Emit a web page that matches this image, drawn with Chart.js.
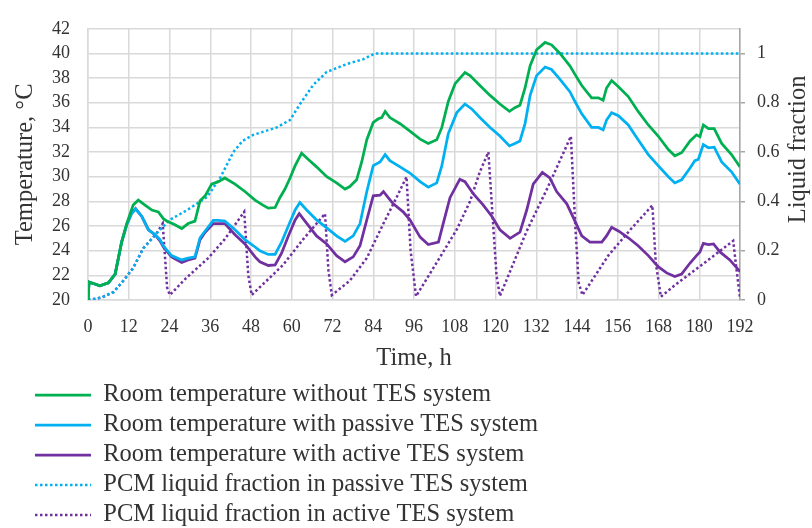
<!DOCTYPE html>
<html>
<head>
<meta charset="utf-8">
<script src="https://cdn.jsdelivr.net/npm/chart.js@4/dist/chart.umd.min.js"></script>
<style>
  html, body { margin: 0; padding: 0; background: #ffffff; }
  #wrap { width: 812px; height: 528px; position: relative; }
</style>
</head>
<body>
<div id="wrap"><canvas id="c" width="812" height="528"></canvas></div>
<script>
// ---------- DATA ----------
const seriesNames = [
  'Room temperature without TES system',
  'Room temperature with passive TES system',
  'Room temperature with active TES system',
  'PCM liquid fraction in passive TES system',
  'PCM liquid fraction in active TES system'
];
const xTitle = 'Time, h';
const yTitle = 'Temperature, °C';
const y2Title = 'Liquid fraction';
const timeTicks = [0, 12, 24, 36, 48, 60, 72, 84, 96, 108, 120, 132, 144, 156, 168, 180, 192];
const tempTicks = [20, 22, 24, 26, 28, 30, 32, 34, 36, 38, 40, 42];
const fractionTicks = [0, 0.2, 0.4, 0.6, 0.8, 1];

const noTesHours = [0,0.3,2,3.5,6,8,9.9,11.4,13.3,14.8,16.8,18.8,20.7,22.2,23.2,25.6,27.6,29.5,31.5,33,34.5,36.4,38.4,40.3,43.3,46.2,49.2,51.5,53.1,55.1,56.5,58,59.5,61,62.9,64.9,67.3,70.3,73.2,75.7,77.1,79.1,80.6,82.1,84,85.5,86.5,87.5,88.9,91.9,94.8,97.8,100.2,102.7,104.2,106.1,108.1,111,112.5,115.4,118.4,121.3,124.1,125.7,127.2,128.7,130.2,132.1,134.6,136.5,139,141.9,143.4,145.4,148.3,150.3,151.7,152.7,154.2,156.2,159.1,162,165,167.9,170.9,172.8,174.8,177.3,179.2,180.2,181.2,182.7,184.4,186.6,189.5,192];
const noTesTemp = [20,21.45,21.3,21.15,21.4,22.1,24.7,26.2,27.7,28.1,27.7,27.3,27.15,26.6,26.4,26.1,25.8,26.2,26.4,28.05,28.45,29.4,29.6,29.9,29.4,28.8,28.1,27.7,27.45,27.5,28.3,29,29.9,30.9,31.9,31.4,30.8,30,29.5,29,29.2,29.75,31.2,33,34.4,34.7,34.8,35.3,34.8,34.3,33.7,33.05,32.7,33,34,36.1,37.55,38.45,38.2,37.4,36.6,35.9,35.3,35.6,35.8,37.2,39,40.3,40.9,40.7,40,39,38.3,37.4,36.4,36.4,36.2,37.2,37.8,37.3,36.5,35.3,34.2,33.3,32.2,31.7,31.95,32.9,33.4,33.25,34.2,33.9,33.9,32.7,31.8,30.8];

const passiveHours = [0,0.3,2,3.5,6,8,9.9,11.4,12.8,14,15.8,17.8,19.7,21.2,22.2,24.6,27.6,29.5,31.5,33,34.5,36.9,38.4,40.3,43.3,46.2,49.2,50.6,53.1,55.1,57,59,61,62.4,64.4,67.3,70.3,73.2,75.7,78.1,80.1,82.1,84,86,87.5,88.9,91.9,94.8,97.8,100.2,102.7,104.2,106.1,108.6,111,113,115.4,118.4,121.3,124.1,125.7,127.2,128.7,130.2,132.1,134.6,136.5,139,141.9,143.4,145.4,148.3,150.3,151.7,152.7,154.2,156.2,159.1,162,165,167.9,170.9,172.8,174.8,177.3,178.7,179.7,180.2,181.2,182.7,184.4,186.6,189.5,192];
const passiveTemp = [20,21.45,21.3,21.15,21.4,22.1,24.7,26.1,27,27.4,26.8,25.7,25.3,24.9,24.4,23.6,23.25,23.4,23.5,25.05,25.6,26.45,26.45,26.4,25.7,24.9,24.3,24,23.7,23.7,24.7,26,27.3,27.9,27.3,26.5,25.85,25.2,24.75,25.2,26.2,28.8,30.9,31.2,31.8,31.3,30.8,30.3,29.6,29.15,29.5,30.9,33.5,35.2,35.9,35.5,34.8,34,33.3,32.5,32.7,32.9,34.3,36.6,38.2,38.9,38.7,37.9,36.9,36.1,35.1,34,34,33.8,34.6,35.2,34.95,34.2,33,31.8,30.9,30,29.5,29.75,30.7,31.3,31.4,31.8,32.6,32.35,32.4,31.2,30.4,29.4];

const activeHours = [0,0.3,2,3.5,6,8,9.9,11.4,12.8,14,15.8,17.8,19.7,21.2,22.2,24.6,27.6,29.5,31.5,33,34.5,36.9,38.9,40.3,43.3,46.2,49.2,50.6,53.1,55.1,57,59,61,62.2,63.9,67.3,70.3,73.2,75.7,78.1,80.1,82.1,84,86,87,88.4,89.9,92.8,94.8,97.8,100.2,103.2,104.6,106.6,109.5,111,113.5,116.4,118.9,121.3,124.3,127.2,129.2,131.1,133.8,136,138,141,143.4,145.4,147.8,151.3,152.7,154.2,156.2,159.1,162,165,167.9,170.4,172.8,174.8,177.3,179.2,180.2,181.2,182.7,184.2,186.1,189,192];
const activeTemp = [20,21.45,21.3,21.15,21.4,22.1,24.7,26.1,27,27.4,26.8,25.7,25.3,24.8,24.3,23.5,23.05,23.25,23.4,24.9,25.5,26.2,26.2,26.2,25.3,24.55,23.5,23.1,22.8,22.85,23.8,25.2,26.5,27,26.4,25.2,24.55,23.6,23.1,23.5,24.4,26.5,28.45,28.5,28.8,28.3,27.8,27.15,26.5,25.1,24.5,24.7,26.2,28.3,29.8,29.6,28.6,27.7,26.8,25.7,25,25.5,27.3,29.4,30.35,29.9,28.8,27.8,26.4,25.2,24.7,24.7,25.2,25.9,25.6,25.05,24.4,23.6,22.7,22.2,21.9,22.1,23,23.6,23.9,24.6,24.5,24.55,23.9,23.25,22.3];

const passiveLfHours = [0,4,7.5,10.4,13.3,16.3,20.2,24.1,29.1,35,38.9,42.8,45.5,48.7,55.6,59.5,62.4,66.3,70.3,76.2,81.1,84.5,192];
const passiveLf = [0,0.01,0.032,0.078,0.13,0.21,0.27,0.325,0.364,0.417,0.495,0.6,0.645,0.67,0.7,0.73,0.794,0.872,0.925,0.957,0.977,1,1];

const activeLfHours = [0,4,7.5,10.4,13.3,16.3,20.2,22,23.3,24.1,28.6,35.4,40.3,46,47.2,48.2,57.5,63.4,69.8,70.8,71.8,77.1,82.1,87,90.9,93.8,95,96.6,104.6,108.6,112.5,115.4,117.9,120.3,121.3,129.2,135.5,142.2,143.5,144.5,145.6,153.2,159.7,166.2,167.2,168.7,172.8,182.7,190,191,192];
const activeLf = [0,0.01,0.032,0.078,0.13,0.21,0.27,0.31,0.05,0.02,0.085,0.17,0.247,0.358,0.1,0.02,0.143,0.247,0.35,0.12,0.02,0.078,0.17,0.31,0.417,0.5,0.2,0.015,0.195,0.286,0.4,0.52,0.6,0.1,0.016,0.28,0.46,0.664,0.3,0.07,0.02,0.18,0.285,0.384,0.15,0.013,0.06,0.163,0.24,0.12,0.01];

// ---------- STYLE ----------
const GREEN = '#00B050', BLUE = '#00B0F0', PURPLE = '#7030A0';
const TEXT = '#333333';
const FONT = '"Liberation Serif", "Times New Roman", serif';
const GRID = '#d9d9d9';

const pts = (xs, ys) => xs.map((x, i) => ({ x: x, y: ys[i] }));

const legendShift = {
  id: 'legendShift',
  afterLayout(chart) {
    if (chart.legend) {
      chart.legend.left += 29.5;
      chart.legend.top += 9.25;
      chart.legend.bottom += 9.25;
    }
  }
};

const rightTitle = {
  id: 'rightTitle',
  afterDraw(chart) {
    const s = chart.scales.yLf;
    const ctx = chart.ctx;
    ctx.save();
    ctx.translate(s.right - 13, (chart.chartArea.top + chart.chartArea.bottom) / 2 - 15);
    ctx.rotate(-Math.PI / 2);
    ctx.textAlign = 'center';
    ctx.textBaseline = 'middle';
    ctx.font = '24.5px ' + FONT;
    ctx.fillStyle = TEXT;
    ctx.fillText(y2Title, 0, 0);
    ctx.restore();
  }
};

const solid = (label, color, xs, ys) => ({
  label, data: pts(xs, ys), borderColor: color, backgroundColor: color,
  borderWidth: 2.75, pointRadius: 0, tension: 0, yAxisID: 'yT', fill: false
});
const dotted = (label, color, xs, ys) => ({
  label, data: pts(xs, ys), borderColor: color, backgroundColor: color,
  borderWidth: 2.5, borderDash: [2.5, 2.5], pointRadius: 0, tension: 0, yAxisID: 'yLf', fill: false
});

new Chart(document.getElementById('c'), {
  type: 'line',
  data: {
    datasets: [
      solid(seriesNames[0], GREEN, noTesHours, noTesTemp),
      solid(seriesNames[1], BLUE, passiveHours, passiveTemp),
      solid(seriesNames[2], PURPLE, activeHours, activeTemp),
      dotted(seriesNames[3], BLUE, passiveLfHours, passiveLf),
      dotted(seriesNames[4], PURPLE, activeLfHours, activeLf)
    ]
  },
  plugins: [legendShift, rightTitle],
  options: {
    responsive: false,
    animation: false,
    devicePixelRatio: 1,
    layout: { padding: { top: 18, left: 0, right: 0, bottom: 0 } },
    plugins: {
      tooltip: { enabled: false },
      legend: {
        display: true,
        position: 'bottom',
        align: 'start',
        labels: {
          usePointStyle: true,
          pointStyle: 'line',
          pointStyleWidth: 56,
          padding: 5.5,
          color: TEXT,
          font: { family: FONT, size: 24.5 },
          generateLabels: chart => {
            const items = Chart.defaults.plugins.legend.labels.generateLabels(chart);
            items.forEach(it => {
              const ds = chart.data.datasets[it.datasetIndex];
              it.lineDash = ds.borderDash || [];
              it.lineWidth = ds.borderWidth;
              it.strokeStyle = ds.borderColor;
              it.fillStyle = ds.borderColor;
              it.pointStyle = 'line';
            });
            return items;
          }
        }
      }
    },
    scales: {
      x: {
        type: 'linear', min: 0, max: 192,
        afterBuildTicks: s => { s.ticks = timeTicks.map(v => ({ value: v })); },
        afterFit: s => { s.height = 68; },
        grid: { color: GRID, lineWidth: 1.5, drawTicks: false },
        border: { color: GRID, width: 1.5 },
        ticks: { color: TEXT, font: { family: FONT, size: 18 }, padding: 16, maxRotation: 0 },
        title: { display: true, text: xTitle, color: TEXT, font: { family: FONT, size: 24.5, lineHeight: 1 }, padding: { top: 0, bottom: -3 } }
      },
      yT: {
        type: 'linear', position: 'left', min: 20, max: 42,
        afterBuildTicks: s => { s.ticks = tempTicks.map(v => ({ value: v })); },
        afterFit: s => { s.width = 88; },
        grid: { color: GRID, lineWidth: 1.5, drawTicks: false },
        border: { color: GRID, width: 1.5 },
        ticks: { color: TEXT, font: { family: FONT, size: 18 }, padding: 18 },
        title: { display: true, text: yTitle, color: TEXT, font: { family: FONT, size: 24.5, lineHeight: 1 }, padding: { top: 13, bottom: 0 } }
      },
      yLf: {
        type: 'linear', position: 'right', min: 0, max: 1.1,
        afterBuildTicks: s => { s.ticks = fractionTicks.map(v => ({ value: v })); },
        afterFit: s => { s.width = 72; },
        grid: { drawOnChartArea: false, color: '#a6a6a6', lineWidth: 1.5, drawTicks: true, tickLength: 5 },
        border: { color: '#a6a6a6', width: 1.5 },
        ticks: { color: TEXT, font: { family: FONT, size: 18 }, padding: 12, callback: v => String(+Number(v).toFixed(1)) },
        title: { display: false }
      }
    }
  }
});
</script>
</body>
</html>
